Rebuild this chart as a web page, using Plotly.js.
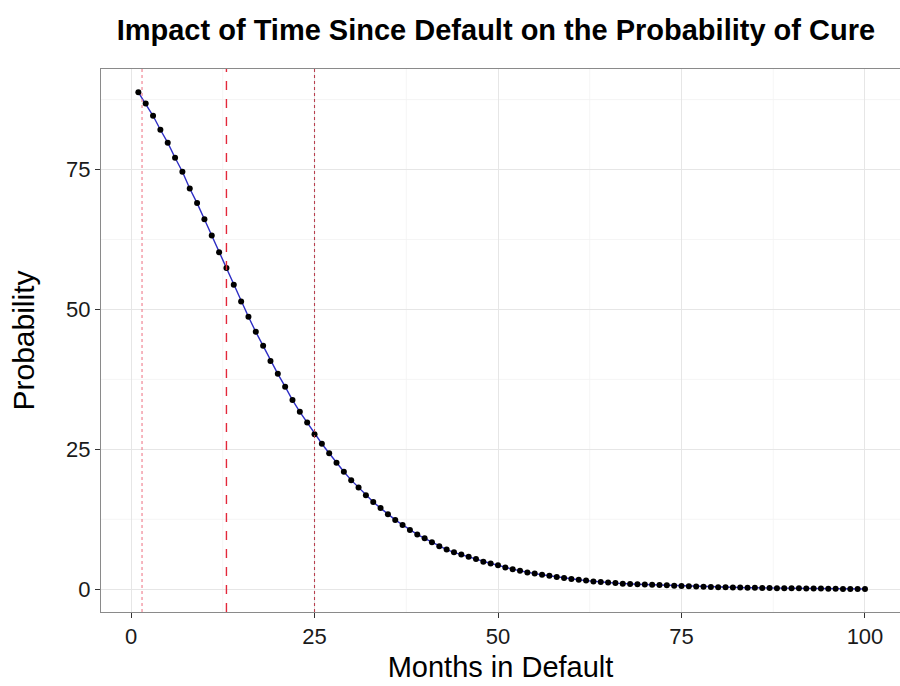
<!DOCTYPE html>
<html>
<head>
<meta charset="utf-8">
<script src="https://cdn.plot.ly/plotly-3.0.1.min.js"></script>
<style>html,body{margin:0;padding:0;background:#fff;}#chart{width:900px;height:686px;}</style>
</head>
<body>
<div id="chart"></div>
<script>
// Months in default (x) and probability of cure (y)
const months = [
  1,2,3,4,5,6,7,8,9,10,
  11,12,13,14,15,16,17,18,19,20,
  21,22,23,24,25,26,27,28,29,30,
  31,32,33,34,35,36,37,38,39,40,
  41,42,43,44,45,46,47,48,49,50,
  51,52,53,54,55,56,57,58,59,60,
  61,62,63,64,65,66,67,68,69,70,
  71,72,73,74,75,76,77,78,79,80,
  81,82,83,84,85,86,87,88,89,90,
  91,92,93,94,95,96,97,98,99,100
];
const probability = [
  88.8,86.8,84.6,82.1,79.8,77.1,74.6,71.6,69.0,66.1,
  63.2,60.2,57.4,54.4,51.4,48.7,46.0,43.5,40.8,38.5,
  36.2,33.8,31.7,29.8,27.7,26.0,24.3,22.6,21.0,19.5,
  18.2,16.8,15.6,14.5,13.4,12.4,11.5,10.6,9.8,9.1,
  8.4,7.7,7.1,6.6,6.2,5.8,5.4,4.9,4.6,4.3,
  3.9,3.6,3.3,3.0,2.8,2.6,2.4,2.2,2.0,1.85,
  1.7,1.55,1.4,1.3,1.2,1.1,1.0,0.95,0.9,0.85,
  0.8,0.75,0.7,0.65,0.6,0.55,0.5,0.45,0.4,0.38,
  0.35,0.32,0.3,0.28,0.26,0.24,0.22,0.2,0.19,0.18,
  0.17,0.16,0.15,0.14,0.1,0.08,0.07,0.06,0.05,0.05
];
// Reference vertical lines (month positions)
const refLineMonths = [1.5, 13, 25];
const xTickVals = [0, 25, 50, 75, 100];
const yTickVals = [0, 25, 50, 75];

const lineStyles = [
  {color: '#f07d8c', dash: 'dot', width: 1.1},
  {color: '#e3283a', dash: 'dash', width: 1.4},
  {color: '#b8404f', dash: 'dot', width: 1.1}
];

const shapes = [];
// minor gridlines
[12.5, 37.5, 62.5, 87.5].forEach(v => {
  shapes.push({type:'line', xref:'x', yref:'paper', x0:v, x1:v, y0:0, y1:1, layer:'below',
    line:{color:'#f2f2f2', width:0.8}});
});
[12.5, 37.5, 62.5, 87.5].forEach(v => {
  shapes.push({type:'line', xref:'paper', yref:'y', x0:0, x1:1, y0:v, y1:v, layer:'below',
    line:{color:'#f2f2f2', width:0.8}});
});
refLineMonths.forEach((m, i) => {
  shapes.push({type:'line', xref:'x', yref:'paper', x0:m, x1:m, y0:0, y1:1, layer:'above',
    line:{color:lineStyles[i].color, width:lineStyles[i].width, dash:lineStyles[i].dash}});
});

const traces = [
  {x: months, y: probability, type:'scatter', mode:'lines',
   line:{color:'#2e2ec4', width:1.4}, hoverinfo:'skip'},
  {x: months, y: probability, type:'scatter', mode:'markers',
   marker:{color:'#000000', size:6}}
];

const layout = {
  width: 900, height: 686,
  margin: {l:101, r:0, t:69, b:74},
  paper_bgcolor:'#ffffff', plot_bgcolor:'#ffffff',
  showlegend:false,
  font:{family:'"Liberation Sans", Arial, sans-serif', color:'#000'},
  title:{text:'<b>Impact of Time Since Default on the Probability of Cure</b>',
    font:{size:29, color:'#000', family:'"Liberation Sans", Arial, sans-serif'},
    xref:'container', yref:'container', x:0.551, xanchor:'center', y:0.957, yanchor:'middle'},
  xaxis:{
    range:[-4.09, 104.77], tickvals:xTickVals, ticktext:xTickVals.map(String),
    showgrid:true, gridcolor:'#e6e6e6', gridwidth:1, zeroline:false,
    showline:true, mirror:true, linecolor:'#8a8a8a', linewidth:1,
    ticks:'outside', ticklen:5, tickcolor:'#333', tickwidth:1,
    tickfont:{size:22, color:'#1a1a1a'},
    title:{text:'Months in Default', font:{size:29, color:'#000'}, standoff:8}
  },
  yaxis:{
    range:[-4.06, 92.96], tickvals:yTickVals, ticktext:yTickVals.map(String),
    showgrid:true, gridcolor:'#e6e6e6', gridwidth:1, zeroline:false,
    showline:true, mirror:true, linecolor:'#8a8a8a', linewidth:1,
    ticks:'outside', ticklen:5, tickcolor:'#333', tickwidth:1,
    tickfont:{size:22, color:'#1a1a1a'},
    title:{text:'Probability', font:{size:30, color:'#000'}, standoff:22}
  },
  shapes: shapes
};

Plotly.newPlot('chart', traces, layout, {staticPlot:true, displayModeBar:false});
</script>
</body>
</html>
